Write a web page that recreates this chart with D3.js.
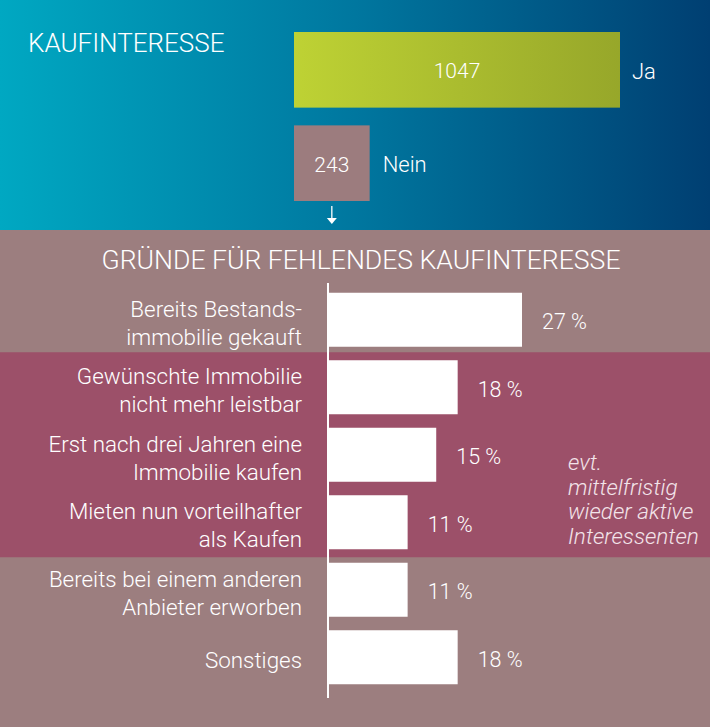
<!DOCTYPE html>
<html><head><meta charset="utf-8">
<script src="https://cdn.jsdelivr.net/npm/d3@7"></script>
<style>body{margin:0;padding:0;overflow:hidden}svg{display:block}</style>
</head><body>
<svg id="chart" width="710" height="727"></svg>
<script>
const topCategories = ["Ja", "Nein"];
const topValues = [1047, 243];
const reasonLabels = [
  ["Bereits Bestands-", "immobilie gekauft"],
  ["Gewünschte Immobilie", "nicht mehr leistbar"],
  ["Erst nach drei Jahren eine", "Immobilie kaufen"],
  ["Mieten nun vorteilhafter", "als Kaufen"],
  ["Bereits bei einem anderen", "Anbieter erworben"],
  ["Sonstiges"]
];
const reasonValues = [27, 18, 15, 11, 11, 18];
const noteLines = ["evt.", "mittelfristig", "wieder aktive", "Interessenten"];

const FONT = "Roboto, 'DejaVu Sans Condensed', sans-serif";
const FW = 300;
const svg = d3.select("#chart");
const W = 710, H = 727;
const defs = svg.append("defs");
const g1 = defs.append("linearGradient").attr("id","topbg").attr("x1","0").attr("x2","1").attr("y1","0").attr("y2","0");
g1.append("stop").attr("offset","0").attr("stop-color","#00a8c2");
g1.append("stop").attr("offset","0.5").attr("stop-color","#00779f");
g1.append("stop").attr("offset","1").attr("stop-color","#003f72");
const g2 = defs.append("linearGradient").attr("id","jabar").attr("x1","0").attr("x2","1").attr("y1","0").attr("y2","0");
g2.append("stop").attr("offset","0").attr("stop-color","#bed234");
g2.append("stop").attr("offset","1").attr("stop-color","#97a72a");

function txt(sel, size){ return sel.attr("fill","#fff").attr("font-family",FONT).attr("font-weight",FW).attr("font-size",size); }

// top section
svg.append("rect").attr("x",0).attr("y",0).attr("width",W).attr("height",231).attr("fill","url(#topbg)");
txt(svg.append("text").attr("x",28).attr("y",52), 26).text("KAUFINTERESSE");

const xTop = d3.scaleLinear().domain([0, 1047]).range([0, 326]);
const yTop = d3.scaleBand().domain(topCategories).range([32, 201]).paddingInner(0.19);
const topG = svg.append("g");
topCategories.forEach((c,i)=>{
  const x0 = 294, w = xTop(topValues[i]), y0 = yTop(c), h = yTop.bandwidth();
  topG.append("rect").attr("x",x0).attr("y",y0).attr("width",w).attr("height",h)
    .attr("fill", i===0 ? "url(#jabar)" : "#9c7c7e");
  txt(topG.append("text").attr("x",x0+w/2).attr("y",y0+h/2+1).attr("dy","0.35em").attr("text-anchor","middle"), 21).text(topValues[i]);
  txt(topG.append("text").attr("x",x0+w+ (i===0?12:13)).attr("y",y0+h/2+1).attr("dy","0.35em"), 22).text(c);
});
// arrow
const ax = 294 + xTop(topValues[1])/2;
svg.append("line").attr("x1",ax).attr("x2",ax).attr("y1",206).attr("y2",219).attr("stroke","#fff").attr("stroke-width",1.3);
svg.append("path").attr("d",`M${ax-5},218 L${ax+5},218 L${ax},224 Z`).attr("fill","#fff");

// bottom section
svg.append("rect").attr("x",0).attr("y",230).attr("width",W).attr("height",H-230).attr("fill","#9c7e7f");
txt(svg.append("text").attr("x",361).attr("y",269).attr("text-anchor","middle"), 26.6).text("GRÜNDE FÜR FEHLENDES KAUFINTERESSE");

const y = d3.scaleBand().domain(d3.range(reasonValues.length)).range([286, 691]).paddingInner(0.2).paddingOuter(0.1);
const x = d3.scaleLinear().domain([0, 27]).range([0, 193]);
const x0 = 329;

// highlight band rows 1-3
svg.append("rect").attr("x",0).attr("y",y(1)-8).attr("width",W).attr("height",y(3)+y.bandwidth()+8-(y(1)-8)).attr("fill","#9c5069");

const bars = svg.append("g");
reasonValues.forEach((v,i)=>{
  const by = y(i), bh = y.bandwidth(), cy = by + bh/2;
  bars.append("rect").attr("x",x0).attr("y",by).attr("width",x(v)).attr("height",bh).attr("fill","#fff");
  txt(bars.append("text").attr("x",x0+x(v)+20).attr("y",cy+2).attr("dy","0.35em"), 21.5).text(v+" %");
  const lines = reasonLabels[i];
  const lh = 28;
  lines.forEach((t,j)=>{
    txt(bars.append("text").attr("x",302).attr("y",cy + 3 + (j-(lines.length-1)/2)*lh).attr("dy","0.35em")
      .attr("text-anchor","end"), 22.4).text(t);
  });
});
svg.append("line").attr("x1",328).attr("x2",328).attr("y1",283).attr("y2",698).attr("stroke","#fff").attr("stroke-width",2);

const note = svg.append("g");
noteLines.forEach((t,i)=>{
  txt(note.append("text").attr("x",568).attr("y",470+i*24.5).attr("font-style","italic"), 22.6).attr("fill","#f3e4ea").text(t);
});
</script>
</body></html>
